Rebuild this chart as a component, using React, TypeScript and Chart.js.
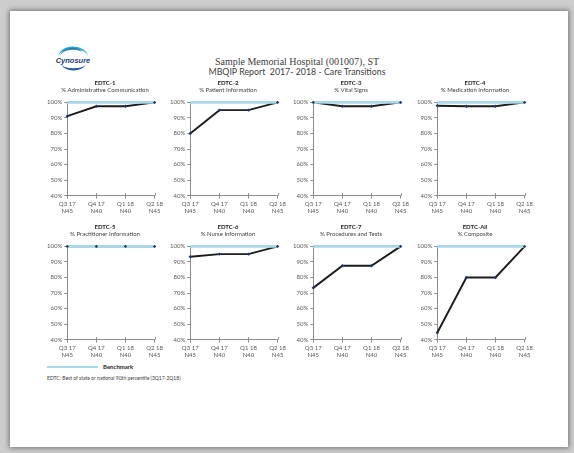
import React, { useEffect, useRef } from 'react';
import { Chart, registerables } from 'chart.js';

Chart.register(...registerables);

// ---------- data ----------
const quarters = ['Q3 17', 'Q4 17', 'Q1 18', 'Q2 18'];
const counts = ['N45', 'N40', 'N40', 'N45'];
const measureCodes = ['EDTC-1', 'EDTC-2', 'EDTC-3', 'EDTC-4', 'EDTC-5', 'EDTC-6', 'EDTC-7', 'EDTC-All'];
const measureNames = [
  '% Administrative Communication',
  '% Patient Information',
  '% Vital Signs',
  '% Medication Information',
  '% Practitioner Information',
  '% Nurse Information',
  '% Procedures and Tests',
  '% Composite',
];
const edtc1 = [91.1, 97.5, 97.5, 100];
const edtc2 = [80, 95, 95, 100];
const edtc3 = [100, 97.5, 97.5, 100];
const edtc4 = [97.8, 97.5, 97.5, 100];
const edtc5 = [100, 100, 100, 100];
const edtc6 = [93.3, 95, 95, 100];
const edtc7 = [73.3, 87.5, 87.5, 100];
const edtcAll = [44.4, 80, 80, 100];
const seriesValues = [edtc1, edtc2, edtc3, edtc4, edtc5, edtc6, edtc7, edtcAll];
const benchmark = [100, 100, 100, 100];
const yMin = 40;
const yMax = 100;
const yStep = 10;

const FONT = 'Lato, "Open Sans", sans-serif';
const AXIS = '#8c8c8c';
const TICK_TXT = '#595959';
const BENCH = '#a9d8e8';

// draws the part of each x tick mark that sits above the axis, so ticks cross the axis
const crossTicks = {
  id: 'crossTicks',
  afterDraw(chart: any) {
    const xs = chart.scales.x;
    const ctx = chart.ctx;
    const y = chart.chartArea.bottom;
    ctx.save();
    ctx.strokeStyle = AXIS;
    ctx.lineWidth = 1;
    xs.ticks.forEach((_t: any, i: number) => {
      const x = Math.round(xs.getPixelForTick(i)) + 0.5;
      ctx.beginPath();
      ctx.moveTo(x, y - 2.5);
      ctx.lineTo(x, y);
      ctx.stroke();
    });
    ctx.restore();
  },
};

type MiniProps = { code: string; name: string; values: number[]; left: number; top: number };

function MiniChart({ code, name, values, left, top }: MiniProps) {
  const ref = useRef<HTMLCanvasElement>(null);
  useEffect(() => {
    const chart = new Chart(ref.current as HTMLCanvasElement, {
      type: 'line',
      data: {
        labels: quarters.map((q, i) => [q, counts[i]]),
        datasets: [
          {
            label: code + ' markers',
            data: values,
            showLine: false,
            pointRadius: 1.7,
            pointStyle: 'rectRot',
            pointBackgroundColor: '#1f3864',
            pointBorderColor: '#1f3864',
            pointBorderWidth: 0,
            order: -1,
            clip: false,
          } as any,
          {
            label: 'Benchmark',
            data: benchmark,
            borderColor: BENCH,
            borderWidth: 2.6,
            pointRadius: 0,
            order: 0,
            clip: false,
          } as any,
          {
            label: code,
            data: values,
            borderColor: '#1c1c1c',
            borderWidth: 1.9,
            pointRadius: 0,
            order: 1,
            clip: false,
          } as any,
        ],
      },
      options: {
        responsive: false,
        maintainAspectRatio: false,
        animation: false,
        layout: { padding: 0 },
        plugins: {
          legend: { display: false },
          tooltip: { enabled: false },
          title: {
            display: true,
            text: code,
            color: '#262626',
            font: { family: FONT, size: 6, weight: 'bold', lineHeight: 1.2 },
            padding: { top: 1, bottom: 0 },
          },
          subtitle: {
            display: true,
            text: name,
            color: '#404040',
            font: { family: FONT, size: 6, lineHeight: 1.2 },
            padding: { top: 0, bottom: 9 },
          },
        },
        scales: {
          x: {
            type: 'category',
            offset: false,
            grid: { display: true, drawOnChartArea: false, tickLength: 3, color: AXIS },
            border: { display: true, color: AXIS, width: 1 },
            ticks: {
              color: TICK_TXT,
              font: { family: FONT, size: 6, lineHeight: 1.2 },
              padding: 2,
              maxRotation: 0,
              autoSkip: false,
            },
          },
          y: {
            min: yMin,
            max: yMax,
            grid: { display: true, drawOnChartArea: false, tickLength: 3, color: AXIS },
            border: { display: true, color: AXIS, width: 1 },
            ticks: {
              stepSize: yStep,
              color: TICK_TXT,
              font: { family: FONT, size: 6 },
              padding: 2,
              callback: (v: any) => `${v}%`,
            },
          },
        },
      },
      plugins: [crossTicks],
    });
    return () => chart.destroy();
  }, [code, name, values]);
  return (
    <canvas
      ref={ref}
      width={120}
      height={139}
      style={{ position: 'absolute', left, top, width: 120, height: 139 }}
    />
  );
}

function Logo() {
  return (
    <svg width={42} height={30} viewBox="0 0 42 30" style={{ position: 'absolute', left: 52, top: 45 }}>
      <path d="M 6 13 A 15 11 0 0 1 36 12 A 14 8 0 0 0 6 13 Z" fill="#2aa9d0" />
      <path d="M 8 12 A 13 8 0 0 1 30 7 A 12 9 0 0 0 8 12 Z" fill="#1b6fae" opacity={0.8} />
      <path d="M 9 19 A 13 9 0 0 0 34 19 A 13 6 0 0 1 9 19 Z" fill="#1e5aa0" />
      <text
        x={21}
        y={18}
        textAnchor="middle"
        fontFamily="Liberation Sans, sans-serif"
        fontStyle="italic"
        fontWeight="bold"
        fontSize={7.5}
        fill="#1d3b6e"
      >
        Cynosure
      </text>
    </svg>
  );
}

export default function App() {
  const plotLefts = [45, 168, 291, 415];
  const rowTops = [78, 222];
  return (
    <div
      style={{
        position: 'absolute',
        left: 0,
        top: 0,
        width: 574,
        height: 453,
        background: '#cdcdcd',
        overflow: 'hidden',
      }}
    >
      <div
        style={{
          position: 'absolute',
          left: 10,
          top: 11,
          width: 558,
          height: 436,
          background: '#ffffff',
          boxShadow: '0 0 5px 1px rgba(0,0,0,0.45)',
        }}
      />
      <Logo />
      <div
        style={{
          position: 'absolute',
          left: 147,
          width: 300,
          top: 56,
          textAlign: 'center',
          fontFamily: '"Liberation Serif", serif',
          fontSize: 10,
          lineHeight: '12px',
          color: '#404040',
        }}
      >
        Sample Memorial Hospital (001007), ST
      </div>
      <div
        style={{
          position: 'absolute',
          left: 147,
          width: 300,
          top: 66,
          textAlign: 'center',
          fontFamily: FONT,
          fontSize: 8.8,
          lineHeight: '12px',
          color: '#404040',
          whiteSpace: 'pre',
        }}
      >
        {'MBQIP Report  2017- 2018 - Care Transitions'}
      </div>
      {seriesValues.map((vals, i) => (
        <MiniChart
          key={measureCodes[i]}
          code={measureCodes[i]}
          name={measureNames[i]}
          values={vals}
          left={plotLefts[i % 4]}
          top={rowTops[Math.floor(i / 4)]}
        />
      ))}
      <div
        style={{
          position: 'absolute',
          left: 47,
          top: 366,
          width: 51,
          height: 1.5,
          background: BENCH,
        }}
      />
      <div
        style={{
          position: 'absolute',
          left: 103,
          top: 362,
          fontFamily: FONT,
          fontSize: 6,
          fontWeight: 'bold',
          lineHeight: '9px',
          color: '#262626',
        }}
      >
        Benchmark
      </div>
      <div
        style={{
          position: 'absolute',
          left: 47,
          top: 374,
          fontFamily: FONT,
          fontSize: 5,
          lineHeight: '8px',
          color: '#404040',
          whiteSpace: 'nowrap',
        }}
      >
        EDTC: Best of state or national 90th percentile (3Q17-2Q18)
      </div>
    </div>
  );
}
